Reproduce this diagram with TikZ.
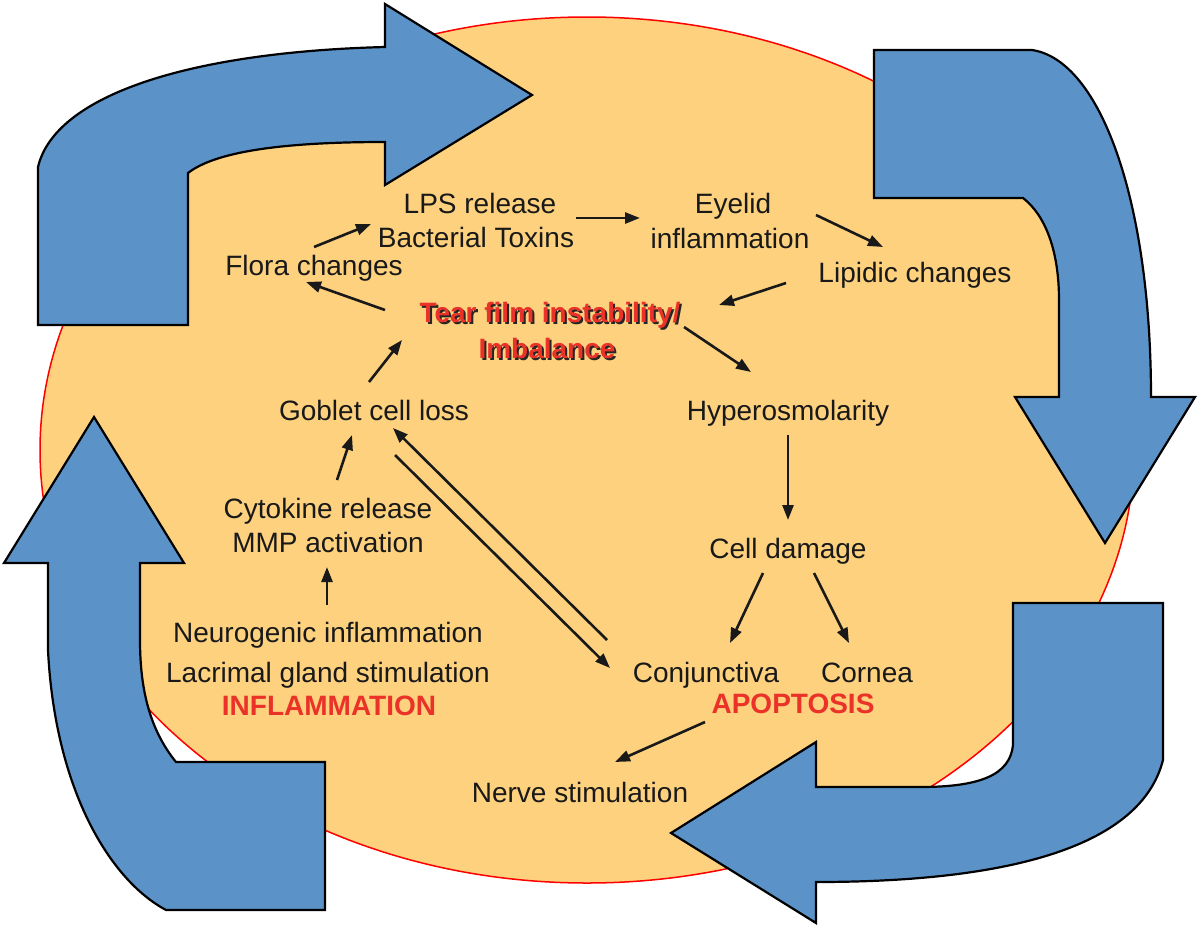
\documentclass[tikz,border=0pt]{standalone}
\usepackage{fontspec}
\setmainfont{Liberation Sans}
\usetikzlibrary{arrows.meta}
\definecolor{egg}{RGB}{253,209,126}
\definecolor{bluearr}{RGB}{91,147,201}
\definecolor{redtxt}{RGB}{234,50,40}
\definecolor{ink}{RGB}{25,25,25}
\begin{document}
\begin{tikzpicture}[x=1pt,y=-1pt,
  lbl/.style={anchor=base,inner sep=0pt,text=ink,font=\fontsize{28}{34}\selectfont},
  redlbl/.style={anchor=base,inner sep=0pt,text=redtxt,font=\fontsize{28}{34}\selectfont\bfseries},
  shadowlbl/.style={redlbl,text=black!85},
  arr/.style={-{Triangle[length=15pt,width=11pt]},line width=2.6pt,draw=ink},
  bigarrow/.style={fill=bluearr,draw=black,line width=2.2pt,line join=miter},
  oval/.style={fill=egg,draw=red,line width=1.5pt}
]
\useasboundingbox (0,0) rectangle (1200,927);
\fill[white] (0,0) rectangle (1200,927);

% central oval
\draw[oval] (587,450) ellipse [x radius=547, y radius=433];

% top-left blue arrow
\draw[bigarrow] (38,325) -- (38,167) .. controls (55,95) and (190,52) .. (385,47)
  -- (385,4) -- (532,95) -- (385,185) -- (385,142)
  .. controls (280,142) and (215,152) .. (188,173) -- (188,325) -- cycle;

% top-right blue arrow
\draw[bigarrow] (874,50) -- (1032,50) .. controls (1100,60) and (1151,200) .. (1151,397)
  -- (1195,397) -- (1105,543) -- (1015,397) -- (1059,397) -- (1059,300)
  .. controls (1059,250) and (1045,215) .. (1023,198) -- (874,198) -- cycle;

% bottom-right blue arrow
\draw[bigarrow] (1013,603) -- (1163,603) -- (1163,760)
  .. controls (1140,850) and (1000,882) .. (816,882)
  -- (816,923) -- (671,833) -- (816,742) -- (816,787) -- (920,787)
  .. controls (980,787) and (1010,775) .. (1013,745) -- cycle;

% bottom-left blue arrow
\draw[bigarrow] (140,563) -- (184,563) -- (94,417) -- (4,563) -- (48,563) -- (48,650)
  .. controls (55,790) and (110,880) .. (166,910) -- (325,910) -- (325,762) -- (176,762)
  .. controls (150,730) and (140,690) .. (140,640) -- cycle;

% labels
\node[lbl] (lps) at (480,213) {LPS release};
\node[lbl] (bact) at (476,247) {Bacterial Toxins};
\node[lbl] (flora) at (314,275) {Flora changes};
\node[shadowlbl] (tear1s) at (552,324) {Tear film instability/};
\node[redlbl] (tear1) at (550,322) {Tear film instability/};
\node[shadowlbl] (tear2s) at (549,360) {Imbalance};
\node[redlbl] (tear2) at (547,358) {Imbalance};
\node[lbl] (eyelid) at (733,213) {Eyelid};
\node[lbl] (infl) at (730,248) {inflammation};
\node[lbl] (lipidic) at (915,282) {Lipidic changes};
\node[lbl] (hyper) at (788,420) {Hyperosmolarity};
\node[lbl] (goblet) at (374,420) {Goblet cell loss};
\node[lbl] (cyto) at (328,518) {Cytokine release};
\node[lbl] (mmp) at (328,552) {MMP activation};
\node[lbl] (neuro) at (328,642) {Neurogenic inflammation};
\node[lbl] (lacri) at (328,682) {Lacrimal gland stimulation};
\node[redlbl] (inflam) at (329,715) {INFLAMMATION};
\node[lbl] (cell) at (788,558) {Cell damage};
\node[lbl] (conj) at (706,682) {Conjunctiva};
\node[lbl] (cornea) at (867,682) {Cornea};
\node[redlbl] (apop) at (793,713) {APOPTOSIS};
\node[lbl] (nerve) at (580,802) {Nerve stimulation};

% connectors
\draw[arr] ([shift={(0,-28)}]flora.base) -- ([shift={(-105,-23)}]bact.base);
\draw[arr] ([shift={(-165,-12)}]tear1.base) -- ([shift={(-8,7)}]flora.base);
\draw[arr] ([shift={(96,5)}]lps.base) -- ([shift={(-93,5)}]eyelid.base);
\draw[arr] ([shift={(83,2)}]eyelid.base) -- ([shift={(-32,-35)}]lipidic.base);
\draw[arr] ([shift={(-129,1)}]lipidic.base) -- ([shift={(169,-17)}]tear1.base);
\draw[arr] ([shift={(134,5)}]tear1.base) -- ([shift={(-37,-48)}]hyper.base);
\draw[arr] ([shift={(-5,-38)}]goblet.base) -- ([shift={(-145,-18)}]tear2.base);
\draw[arr] ([shift={(0,15)}]hyper.base) -- ([shift={(0,-38)}]cell.base);
\draw[arr] ([shift={(-25,15)}]cell.base) -- ([shift={(24,-39)}]conj.base);
\draw[arr] ([shift={(26,15)}]cell.base) -- ([shift={(-18,-39)}]cornea.base);
\draw[arr] ([shift={(-88,9)}]apop.base) -- ([shift={(35,-40)}]nerve.base);
\draw[arr] ([shift={(9,-38)}]cyto.base) -- ([shift={(-22,15)}]goblet.base);
\draw[arr] ([shift={(-1,-37)}]neuro.base) -- ([shift={(-1,15)}]mmp.base);
\draw[arr] ([shift={(-99,-42)}]conj.base) -- ([shift={(19,8)}]goblet.base);
\draw[arr] ([shift={(21,35)}]goblet.base) -- ([shift={(-96,-14)}]conj.base);
\end{tikzpicture}
\end{document}
